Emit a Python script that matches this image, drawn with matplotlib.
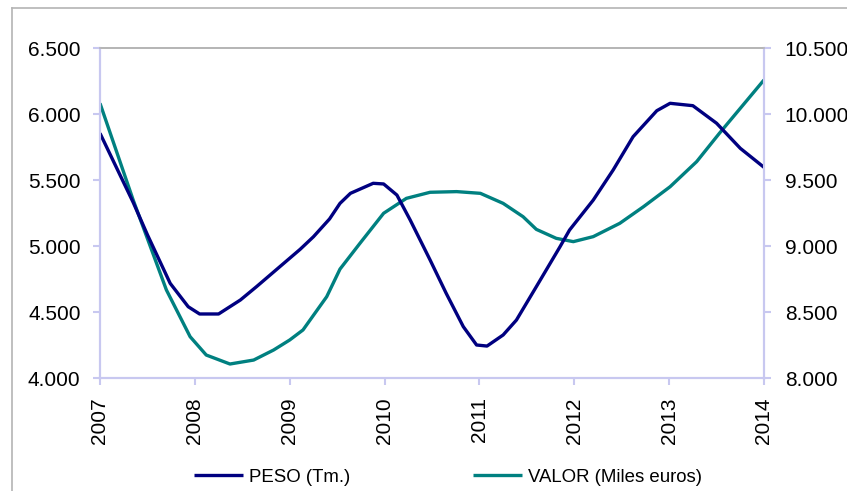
import matplotlib
matplotlib.use("Agg")
import matplotlib.pyplot as plt
from matplotlib.lines import Line2D

# ---- data ----
t_peso = [2007.00, 2007.35, 2007.50, 2007.74, 2007.93, 2008.05, 2008.25,
          2008.48, 2008.65, 2009.11, 2009.25, 2009.42, 2009.53, 2009.64,
          2009.88, 2009.99, 2010.13, 2010.27, 2010.48, 2010.65, 2010.83,
          2010.97, 2011.08, 2011.25, 2011.39, 2011.60, 2011.85, 2011.95,
          2012.20, 2012.41, 2012.62, 2012.87, 2013.01, 2013.25, 2013.50,
          2013.75, 2014.00]
peso = [5854, 5330, 5085, 4717, 4540, 4485, 4485,
        4591, 4692, 4975, 5070, 5205, 5323, 5399,
        5475, 5470, 5386, 5197, 4894, 4641, 4389,
        4250, 4242, 4326, 4439, 4692, 4995, 5121,
        5348, 5576, 5828, 6025, 6081, 6063, 5930,
        5740, 5596]

t_valor = [2007.00, 2007.35, 2007.70, 2007.95, 2008.12, 2008.37, 2008.62,
           2008.83, 2009.00, 2009.14, 2009.39, 2009.53, 2009.74, 2009.99,
           2010.23, 2010.48, 2010.76, 2011.01, 2011.25, 2011.46, 2011.60,
           2011.81, 2011.99, 2012.20, 2012.48, 2012.73, 2013.01, 2013.29,
           2013.53, 2013.75, 2014.00]
valor = [10081, 9348, 8667, 8313, 8174, 8106, 8136,
         8212, 8288, 8364, 8616, 8825, 9020, 9248,
         9361, 9407, 9412, 9399, 9323, 9222, 9126,
         9058, 9033, 9071, 9172, 9298, 9449, 9639,
         9854, 10043, 10258]

left_ticks = [4000, 4500, 5000, 5500, 6000, 6500]
right_ticks = [8000, 8500, 9000, 9500, 10000, 10500]
year_ticks = [2007, 2008, 2009, 2010, 2011, 2012, 2013, 2014]
series_names = ['PESO (Tm.)', 'VALOR (Miles euros)']


def fmt(v):
    return f"{v:,}".replace(",", ".")


plt.rcParams['font.family'] = ['Liberation Sans', 'DejaVu Sans']

fig = plt.figure(figsize=(8.47, 4.91), dpi=100)
ax = fig.add_axes([100 / 847, 1 - 378 / 491, 664 / 847, 330 / 491])
ax2 = ax.twinx()

axis_col = '#c8c8f0'
navy = '#000080'
teal = '#008080'

l1, = ax.plot(t_peso, peso, color=navy, lw=2.4, solid_joinstyle='round',
              solid_capstyle='butt')
l2, = ax2.plot(t_valor, valor, color=teal, lw=2.4, solid_joinstyle='round',
               solid_capstyle='butt')

ax.set_xlim(2007, 2014)
ax.set_ylim(4000, 6500)
ax2.set_ylim(8000, 10500)

ax.set_yticks(left_ticks)
ax.set_yticklabels([fmt(v) for v in left_ticks], fontsize=15)
ax2.set_yticks(right_ticks)
ax2.set_yticklabels([fmt(v) for v in right_ticks], fontsize=15)
ax.set_xticks(year_ticks)
ax.set_xticklabels([str(y) for y in year_ticks], rotation=90, fontsize=15)

for a in (ax, ax2):
    for s in ('left', 'bottom', 'right'):
        a.spines[s].set_color(axis_col)
        a.spines[s].set_linewidth(1.5)
    a.spines['top'].set_color('#b4b4b4')
    a.spines['top'].set_linewidth(1.2)
    a.tick_params(colors=axis_col, labelcolor='black', length=5, width=1.5)
ax.tick_params(axis='y', pad=9)
ax2.tick_params(axis='y', pad=10)
ax.tick_params(axis='x', pad=9)

ax.set_zorder(ax2.get_zorder() + 1)
ax.patch.set_visible(False)

fig.legend([l1, l2], series_names,
           loc='center', bbox_to_anchor=(448 / 847, 1 - 477 / 491), ncol=2,
           frameon=False, fontsize=13.4, handlelength=2.63,
           handletextpad=0.32, columnspacing=6.6, borderpad=0)

# outer chart-area border (top and left visible)
fig.add_artist(Line2D([12 / 847, 1], [1 - 8 / 491, 1 - 8 / 491],
                      transform=fig.transFigure, color='#b4b4b4', lw=1.2))
fig.add_artist(Line2D([12 / 847, 12 / 847], [0, 1 - 8 / 491],
                      transform=fig.transFigure, color='#b4b4b4', lw=1.2))

fig.savefig('out.png', dpi=100)
